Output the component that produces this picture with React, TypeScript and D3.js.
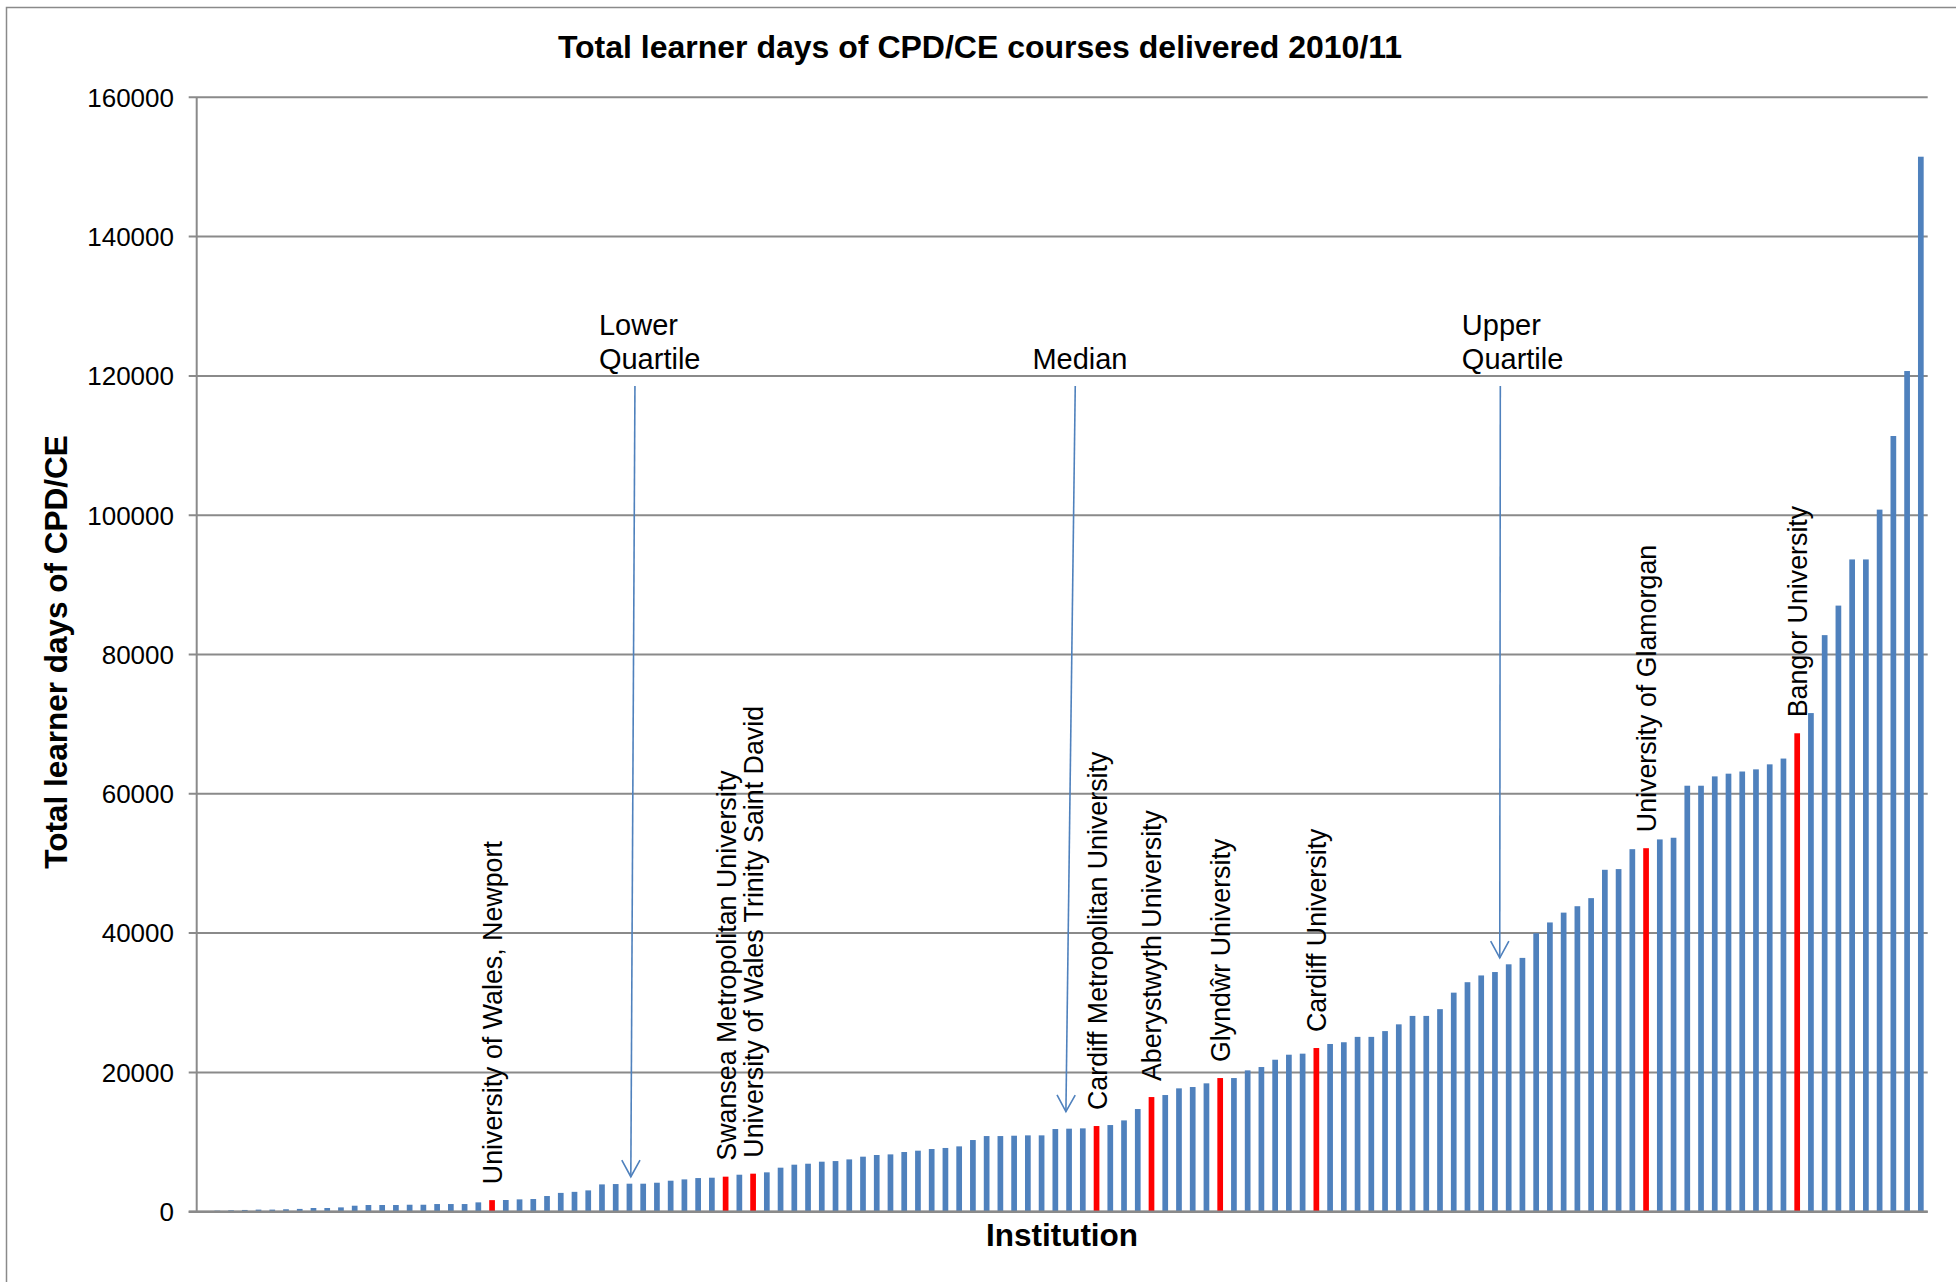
import * as React from 'react';
import * as d3 from 'd3';

// learner days per institution, sorted ascending
const learnerDays = [
	100, 150, 200, 250, 300, 300, 350, 400, 530, 530,
	620, 860, 960, 960, 960, 1000, 1000, 1100, 1100, 1100,
	1340, 1660, 1680, 1770, 1820, 2250, 2700, 2850, 3060, 3920,
	3970, 4020, 4020, 4160, 4450, 4640, 4830, 4880, 5030, 5310,
	5460, 5650, 6320, 6750, 6890, 7180, 7270, 7510, 7900, 8140,
	8230, 8570, 8760, 9000, 9150, 9380, 10290, 10860, 10860, 10910,
	10960, 10960, 11870, 11920, 11965, 12300, 12440, 13110, 14740, 16460,
	16750, 17710, 17900, 18430, 19190, 19190, 20290, 20770, 21820, 22540,
	22690, 23500, 24080, 24330, 25100, 25100, 25930, 26900, 28110, 28110,
	29080, 31450, 32950, 33920, 34410, 35520, 36440, 39980, 41530, 42940,
	43860, 45020, 49090, 49190, 52050, 52190, 53450, 53690, 61160, 61160,
	62500, 62890, 63200, 63510, 64230, 65060, 68690, 71590, 82780, 87020,
	93650, 93650, 100800, 111370, 120700, 151470,
];

// Welsh institutions highlighted in red
const highlightIndex = [21, 38, 40, 65, 69, 74, 81, 105, 116];
const highlightNames = [
	'University of Wales, Newport',
	'Swansea Metropolitan University',
	'University of Wales Trinity Saint David',
	'Cardiff Metropolitan University',
	'Aberystwyth University',
	'Glyndŵr University',
	'Cardiff University',
	'University of Glamorgan',
	'Bangor University',
];

const yTicks = [0, 20000, 40000, 60000, 80000, 100000, 120000, 140000, 160000];

// quartile annotations: text lines, text start (category index), arrow top / tip
const quartileText = [['Lower', 'Quartile'], ['Median'], ['Upper', 'Quartile']];
const quartileTextIndex = [28.78, 60.33, 91.59];
const quartileTopIndex = [31.4, 63.45, 94.39];
const quartileTipIndex = [31.1, 62.77, 94.35];
const quartileTopValue = 118540;
const quartileTipValue = [5020, 14360, 36440];

const BLUE = '#4F81BD';
const RED = '#FF0000';
const GRID = '#8A8A8A';
const FONT = '"Liberation Sans", Arial, sans-serif';

export default function App() {
	const W = 1956;
	const H = 1282;
	const left = 196.7;
	const right = 1927.7;
	const top = 97.3;
	const bottom = 1211.7;

	const x = d3
		.scaleBand<number>()
		.domain(d3.range(learnerDays.length))
		.range([left, right])
		.paddingInner(0.585)
		.paddingOuter(0.2925);
	const y = d3.scaleLinear().domain([0, 160000]).range([bottom, top]);
	const xAt = (k: number) => (x(0) as number) + x.bandwidth() / 2 + k * x.step();

	const arrowHead = (x1: number, y1: number, x2: number, y2: number) => {
		const a = Math.atan2(y2 - y1, x2 - x1);
		const len = 19;
		const spread = 0.5;
		const p1 = [x2 - len * Math.cos(a - spread), y2 - len * Math.sin(a - spread)];
		const p2 = [x2 - len * Math.cos(a + spread), y2 - len * Math.sin(a + spread)];
		return `M${p1[0]},${p1[1]}L${x2},${y2}L${p2[0]},${p2[1]}`;
	};

	return (
		<svg
			width={W}
			height={H}
			style={{ position: 'absolute', left: 0, top: 0, background: '#fff' }}
			fontFamily={FONT}
		>
			<rect x={6.5} y={7.5} width={2100} height={1400} fill='none' stroke={GRID} strokeWidth={1.5} />

			<text x={980} y={58} textAnchor='middle' fontSize={32} fontWeight='bold'>
				Total learner days of CPD/CE courses delivered 2010/11
			</text>

			{yTicks.map(t => (
				<g key={t}>
					<line x1={left - 8} x2={right} y1={y(t)} y2={y(t)} stroke={GRID} strokeWidth={2} />
					<text x={174} y={y(t)} dy='0.36em' textAnchor='end' fontSize={26}>
						{t}
					</text>
				</g>
			))}
			<line x1={left} x2={left} y1={top} y2={bottom} stroke={GRID} strokeWidth={2} />

			{learnerDays.map((v, i) => (
				<rect
					key={i}
					x={x(i)}
					y={y(v)}
					width={x.bandwidth()}
					height={bottom - y(v)}
					fill={highlightIndex.includes(i) ? RED : BLUE}
				/>
			))}
			<line x1={left - 8} x2={right} y1={bottom} y2={bottom} stroke={GRID} strokeWidth={2.5} />

			{highlightIndex.map((idx, k) => {
				const cx = xAt(idx) + 10;
				const cy = y(learnerDays[idx]) - 16;
				return (
					<text key={idx} transform={`translate(${cx},${cy}) rotate(-90)`} fontSize={26.8}>
						{highlightNames[k]}
					</text>
				);
			})}

			{quartileText.map((lines, k) => {
				const x1 = xAt(quartileTopIndex[k]);
				const y1 = y(quartileTopValue);
				const x2 = xAt(quartileTipIndex[k]);
				const y2 = y(quartileTipValue[k]);
				return (
					<g key={k}>
						{lines.map((s, j) => (
							<text
								key={j}
								x={xAt(quartileTextIndex[k])}
								y={y1 - 17.5 - (lines.length - 1 - j) * 33.7}
								fontSize={29}
							>
								{s}
							</text>
						))}
						<line x1={x1} y1={y1} x2={x2} y2={y2} stroke={BLUE} strokeWidth={1.6} />
						<path d={arrowHead(x1, y1, x2, y2)} fill='none' stroke={BLUE} strokeWidth={1.6} />
					</g>
				);
			})}

			<text
				transform={`translate(67,652) rotate(-90)`}
				textAnchor='middle'
				fontSize={31.5}
				fontWeight='bold'
			>
				Total learner days of CPD/CE
			</text>
			<text x={1062} y={1246} textAnchor='middle' fontSize={31.5} fontWeight='bold'>
				Institution
			</text>
		</svg>
	);
}
